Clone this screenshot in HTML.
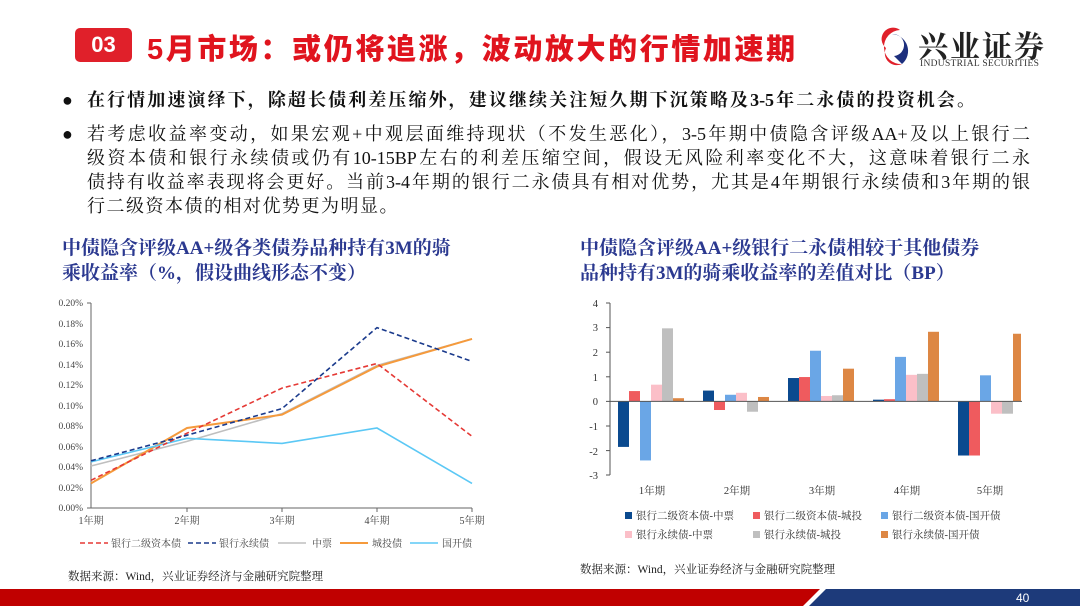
<!DOCTYPE html>
<html><head><meta charset="utf-8"><style>
body{margin:0;width:1080px;height:606px;position:relative;background:#fff;overflow:hidden;font-family:"Liberation Serif","Noto Serif CJK SC",serif;}
.a{position:absolute;white-space:nowrap;}
.t{font-family:"Liberation Sans","Noto Sans CJK SC",sans-serif;font-weight:900;color:#e0141e;font-size:29px;letter-spacing:2.6px;}
.body{font-size:18px;color:#111;line-height:24px;}
.j{text-align:justify;text-align-last:justify;white-space:nowrap;}
.ct{font-size:19px;font-weight:bold;color:#2b3990;line-height:25px;}
</style></head><body>
<div class="a" style="left:75px;top:28px;width:57px;height:34px;background:#e0202a;border-radius:5px;color:#fff;font-family:'Liberation Sans',sans-serif;font-weight:bold;font-size:22px;line-height:34px;text-align:center">03</div>
<div class="a t" style="left:147px;top:26px;">5月市场：或仍将追涨，波动放大的行情加速期</div>
<svg class="a" style="left:872px;top:26px" width="40" height="44" viewBox="0 0 40 44"><path d="M28 4 A17 17 0 1 0 30 38 A12 12 0 0 1 14 22 A10 10 0 0 1 28 4Z" fill="#e0202a"/><path d="M30 38 A17 17 0 0 0 20 8 A10 10 0 0 1 22 30 Z" fill="#1d2f7d"/></svg>
<div class="a" style="left:918px;top:22px;font-size:30px;color:#222;font-family:'Noto Serif CJK SC',serif;font-weight:bold;letter-spacing:2px">兴业证券</div>
<div class="a" style="left:920px;top:59px;font-size:9.5px;color:#333;letter-spacing:0.3px">INDUSTRIAL SECURITIES</div>

<div class="a body" style="left:62px;top:88px">●</div>
<div class="a body j" style="left:87px;top:88px;width:888px;font-weight:bold">在行情加速演绎下，除超长债利差压缩外，建议继续关注短久期下沉策略及3-5年二永债的投资机会。</div>
<div class="a body" style="left:62px;top:122px">●</div>
<div class="a body j" style="left:87px;top:122px;width:943px">若考虑收益率变动，如果宏观+中观层面维持现状（不发生恶化），3-5年期中债隐含评级AA+及以上银行二</div>
<div class="a body j" style="left:87px;top:146px;width:943px">级资本债和银行永续债或仍有10-15BP左右的利差压缩空间，假设无风险利率变化不大，这意味着银行二永</div>
<div class="a body j" style="left:87px;top:170px;width:943px">债持有收益率表现将会更好。当前3-4年期的银行二永债具有相对优势，尤其是4年期银行永续债和3年期的银</div>
<div class="a body" style="left:87px;top:194px;letter-spacing:1.5px">行二级资本债的相对优势更为明显。</div>

<div class="a ct" style="left:62px;top:236px">中债隐含评级AA+级各类债券品种持有3M的骑<br>乘收益率（%，假设曲线形态不变）</div>
<div class="a ct" style="left:580px;top:236px">中债隐含评级AA+级银行二永债相较于其他债券<br>品种持有3M的骑乘收益率的差值对比（BP）</div>

<svg class="a" style="left:0;top:0" width="1080" height="606" font-family="Liberation Serif,Noto Serif CJK SC,serif">
<g font-size="9.5" fill="#444" text-anchor="end">
<text x="83" y="306">0.20%</text><text x="83" y="327">0.18%</text><text x="83" y="347">0.16%</text><text x="83" y="368">0.14%</text><text x="83" y="388">0.12%</text><text x="83" y="409">0.10%</text><text x="83" y="429">0.08%</text><text x="83" y="450">0.06%</text><text x="83" y="470">0.04%</text><text x="83" y="491">0.02%</text><text x="83" y="511">0.00%</text>
</g>
<g stroke="#666" stroke-width="1"><line x1="91" y1="303" x2="91" y2="508"/><line x1="91" y1="508" x2="472" y2="508"/>
<line x1="87" y1="303" x2="91" y2="303"/><line x1="87" y1="508" x2="91" y2="508"/>
<line x1="187" y1="508" x2="187" y2="512"/><line x1="282" y1="508" x2="282" y2="512"/><line x1="377" y1="508" x2="377" y2="512"/><line x1="472" y1="508" x2="472" y2="512"/></g>
<g font-size="10" fill="#444" text-anchor="middle"><text x="91" y="524">1年期</text><text x="187" y="524">2年期</text><text x="282" y="524">3年期</text><text x="377" y="524">4年期</text><text x="472" y="524">5年期</text></g>
<g fill="none" stroke-width="1.6">
<polyline stroke="#bfbfbf" points="91,466 187,441.4 282,413.7 377,365.5 472,338.9"/>
<polyline stroke="#f59a3c" stroke-width="2" points="91,483.4 187,428 282,414.7 377,366.6 472,338.9"/>
<polyline stroke="#5bc8f5" points="91,461.9 187,438.3 282,443.4 377,428 472,483.4"/>
<polyline stroke="#e53935" stroke-dasharray="5,3" points="91,480.3 187,433.2 282,388.1 377,363.5 472,436.3"/>
<polyline stroke="#1a3a8c" stroke-dasharray="5,3" points="91,460.8 187,435.2 282,408.6 377,327.6 472,361.4"/>
</g>
<g font-size="10" fill="#444" stroke-width="1.6">
<line x1="80" y1="543" x2="108" y2="543" stroke="#e53935" stroke-dasharray="5,3"/><text x="111" y="547">银行二级资本债</text>
<line x1="188" y1="543" x2="216" y2="543" stroke="#1a3a8c" stroke-dasharray="5,3"/><text x="219" y="547">银行永续债</text>
<line x1="278" y1="543" x2="306" y2="543" stroke="#bfbfbf"/><text x="312" y="547">中票</text>
<line x1="340" y1="543" x2="368" y2="543" stroke="#f59a3c" stroke-width="2"/><text x="372" y="547">城投债</text>
<line x1="410" y1="543" x2="438" y2="543" stroke="#5bc8f5"/><text x="442" y="547">国开债</text>
</g>
<text x="68" y="580" font-size="11.5" fill="#222">数据来源：Wind，兴业证券经济与金融研究院整理</text>

<g font-size="10.5" fill="#333" text-anchor="end">
<text x="598" y="307">4</text><text x="598" y="331">3</text><text x="598" y="356">2</text><text x="598" y="381">1</text><text x="598" y="405">0</text><text x="598" y="430">-1</text><text x="598" y="455">-2</text><text x="598" y="479">-3</text>
</g>
<g stroke="#555"><line x1="610" y1="303" x2="610" y2="475"/>
<line x1="606" y1="303" x2="610" y2="303"/><line x1="606" y1="327.6" x2="610" y2="327.6"/><line x1="606" y1="352.2" x2="610" y2="352.2"/><line x1="606" y1="376.8" x2="610" y2="376.8"/><line x1="606" y1="426" x2="610" y2="426"/><line x1="606" y1="450.6" x2="610" y2="450.6"/><line x1="606" y1="475" x2="610" y2="475"/></g>
<g id="bars"></g>
<line x1="606" y1="401.4" x2="1022" y2="401.4" stroke="#555"/>
<g font-size="10.5" fill="#333" text-anchor="middle"><text x="652" y="494">1年期</text><text x="737" y="494">2年期</text><text x="822" y="494">3年期</text><text x="907" y="494">4年期</text><text x="990" y="494">5年期</text></g>
<g font-size="10.5" fill="#333">
<rect x="625" y="512" width="7" height="7" fill="#0b4a8f"/><text x="636" y="519">银行二级资本债-中票</text>
<rect x="753" y="512" width="7" height="7" fill="#ef5b5e"/><text x="764" y="519">银行二级资本债-城投</text>
<rect x="881" y="512" width="7" height="7" fill="#6aa6e6"/><text x="892" y="519">银行二级资本债-国开债</text>
<rect x="625" y="531" width="7" height="7" fill="#fbbfc8"/><text x="636" y="538">银行永续债-中票</text>
<rect x="753" y="531" width="7" height="7" fill="#bfbfbf"/><text x="764" y="538">银行永续债-城投</text>
<rect x="881" y="531" width="7" height="7" fill="#dd8744"/><text x="892" y="538">银行永续债-国开债</text>
</g>
<text x="580" y="573" font-size="11.5" fill="#222">数据来源：Wind，兴业证券经济与金融研究院整理</text>

<polygon points="0,589 820,589 803,606 0,606" fill="#c00000"/>
<polygon points="826,589 1080,589 1080,606 809,606" fill="#1d3a7a"/>
<text x="1016" y="602" font-size="12" fill="#fff" font-family="Liberation Sans,sans-serif">40</text>
</svg>
<script>
var v=[[-1.85,0.42,-2.4,0.68,2.97,0.13],[0.44,-0.35,0.27,0.35,-0.42,0.18],[0.95,0.99,2.06,0.22,0.25,1.33],[0.07,0.09,1.81,1.08,1.12,2.83],[-2.2,-2.2,1.06,-0.5,-0.5,2.75]];
var c=["#0b4a8f","#ef5b5e","#6aa6e6","#fbbfc8","#bfbfbf","#dd8744"];
var s="";for(var g=0;g<5;g++)for(var i=0;i<6;i++){var x=618+85*g+11*i;if(x>1021)continue;var w=Math.min(11,1021-x);var h=v[g][i]*24.6;var y=h>0?401.4-h:401.4;s+='<rect x="'+x+'" y="'+y+'" width="'+w+'" height="'+Math.abs(h)+'" fill="'+c[i]+'"/>';}
document.getElementById("bars").innerHTML=s;
</script>
</body></html>
